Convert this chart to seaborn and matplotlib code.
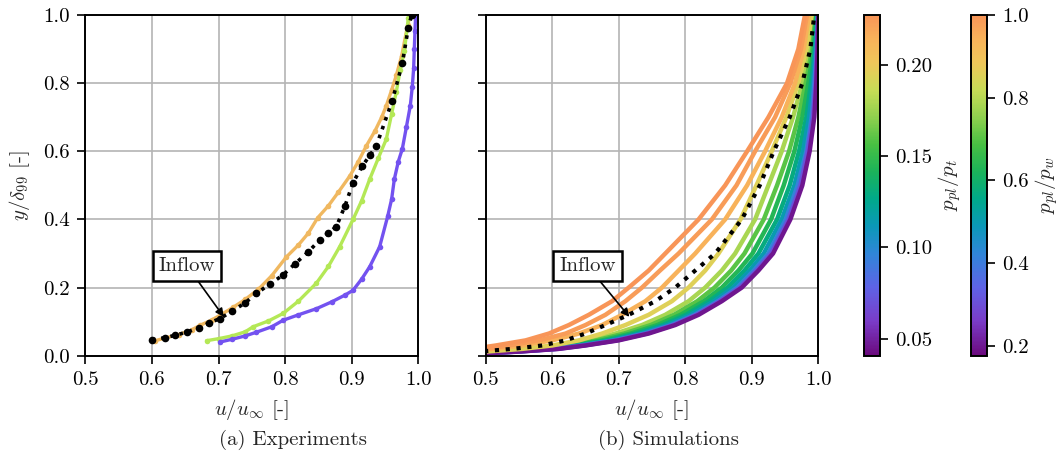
import numpy as np
import pandas as pd
import matplotlib
matplotlib.use("Agg")
import matplotlib.pyplot as plt
import seaborn as sns
from matplotlib.colors import LinearSegmentedColormap, Normalize
from matplotlib.cm import ScalarMappable

# ---------------- data ----------------
# (a) experiments
exp_orange_u = [0.605, 0.62, 0.64, 0.66, 0.672, 0.69, 0.705, 0.722, 0.74, 0.76, 0.78, 0.802, 0.82, 0.835,
                0.849, 0.865, 0.88, 0.897, 0.91, 0.922, 0.935, 0.945, 0.952, 0.96, 0.967, 0.975, 0.984, 0.988]
exp_orange_y = [0.044, 0.052, 0.062, 0.076, 0.089, 0.105, 0.122, 0.142, 0.165, 0.195, 0.235, 0.29, 0.325, 0.36,
                0.405, 0.44, 0.48, 0.527, 0.57, 0.616, 0.66, 0.7, 0.734, 0.78, 0.823, 0.88, 0.97, 1.0]

inflow_u = [0.6, 0.62, 0.635, 0.652, 0.67, 0.685, 0.702, 0.72, 0.74, 0.757, 0.777, 0.797, 0.815, 0.835,
            0.852, 0.865, 0.877, 0.89, 0.902, 0.916, 0.928, 0.937, 0.961, 0.976, 0.985, 0.99]
inflow_y = [0.047, 0.053, 0.06, 0.069, 0.082, 0.095, 0.109, 0.13, 0.155, 0.183, 0.21, 0.237, 0.27, 0.305,
            0.34, 0.36, 0.379, 0.44, 0.508, 0.557, 0.59, 0.616, 0.749, 0.858, 0.963, 1.0]

exp_green_u = [0.682, 0.70, 0.72, 0.74, 0.752, 0.775, 0.797, 0.82, 0.847, 0.865, 0.882, 0.902, 0.915, 0.927,
               0.94, 0.952, 0.96, 0.967, 0.973, 0.979, 0.985]
exp_green_y = [0.044, 0.05, 0.058, 0.07, 0.085, 0.102, 0.124, 0.16, 0.213, 0.262, 0.32, 0.4, 0.455, 0.518,
               0.58, 0.636, 0.71, 0.775, 0.84, 0.893, 0.99]

exp_purple_u = [0.702, 0.72, 0.74, 0.757, 0.78, 0.797, 0.82, 0.847, 0.87, 0.89, 0.902, 0.915, 0.927, 0.942,
                0.954, 0.96, 0.964, 0.97, 0.976, 0.982, 0.988, 0.991, 0.993, 0.994, 0.995, 0.996]
exp_purple_y = [0.04, 0.048, 0.058, 0.069, 0.085, 0.104, 0.12, 0.138, 0.158, 0.178, 0.192, 0.225, 0.261, 0.32,
                0.409, 0.46, 0.518, 0.57, 0.607, 0.67, 0.734, 0.79, 0.843, 0.9, 0.953, 1.0]

# (b) simulations: u at common wall distances
sim_y = [0.004, 0.008, 0.012, 0.02, 0.03, 0.045, 0.065, 0.09, 0.12, 0.16,
         0.2, 0.25, 0.3, 0.4, 0.5, 0.6, 0.7, 0.8, 0.9, 1.0]
sim_ratio = [0.045, 0.07, 0.095, 0.115, 0.13, 0.145, 0.16, 0.178, 0.195, 0.215, 0.224, 0.2275]
sim_u = [
    [0.46, 0.51, 0.55, 0.61, 0.65, 0.70, 0.745, 0.785, 0.82, 0.855, 0.885, 0.91, 0.932, 0.958, 0.976, 0.987, 0.994, 0.997, 0.999, 1.0],
    [0.458, 0.508, 0.548, 0.608, 0.648, 0.697, 0.742, 0.782, 0.817, 0.852, 0.882, 0.907, 0.929, 0.955, 0.973, 0.984, 0.992, 0.996, 0.998, 1.0],
    [0.456, 0.506, 0.546, 0.605, 0.645, 0.694, 0.739, 0.779, 0.814, 0.849, 0.878, 0.903, 0.925, 0.951, 0.969, 0.982, 0.990, 0.994, 0.998, 0.999],
    [0.453, 0.503, 0.543, 0.602, 0.642, 0.689, 0.733, 0.773, 0.808, 0.843, 0.872, 0.897, 0.918, 0.945, 0.964, 0.977, 0.986, 0.992, 0.996, 0.999],
    [0.449, 0.499, 0.539, 0.597, 0.637, 0.683, 0.726, 0.766, 0.801, 0.836, 0.864, 0.889, 0.910, 0.938, 0.957, 0.971, 0.982, 0.989, 0.995, 0.998],
    [0.444, 0.494, 0.534, 0.591, 0.631, 0.675, 0.718, 0.758, 0.793, 0.828, 0.855, 0.880, 0.901, 0.929, 0.948, 0.964, 0.976, 0.985, 0.993, 0.997],
    [0.438, 0.488, 0.528, 0.584, 0.624, 0.666, 0.708, 0.748, 0.783, 0.818, 0.844, 0.869, 0.889, 0.918, 0.938, 0.956, 0.970, 0.981, 0.991, 0.996],
    [0.43, 0.48, 0.52, 0.575, 0.615, 0.655, 0.695, 0.735, 0.77, 0.805, 0.83, 0.855, 0.875, 0.905, 0.925, 0.945, 0.962, 0.976, 0.988, 0.995],
    [0.41, 0.46, 0.50, 0.555, 0.60, 0.64, 0.675, 0.71, 0.745, 0.78, 0.805, 0.83, 0.85, 0.883, 0.907, 0.93, 0.952, 0.97, 0.982, 0.99],
    [0.37, 0.42, 0.46, 0.515, 0.555, 0.60, 0.64, 0.675, 0.705, 0.74, 0.765, 0.79, 0.815, 0.86, 0.893, 0.92, 0.945, 0.965, 0.978, 0.986],
    [0.35, 0.40, 0.44, 0.50, 0.535, 0.58, 0.62, 0.65, 0.68, 0.71, 0.735, 0.762, 0.79, 0.84, 0.877, 0.905, 0.935, 0.958, 0.974, 0.983],
    [0.33, 0.38, 0.42, 0.48, 0.515, 0.56, 0.595, 0.625, 0.655, 0.69, 0.715, 0.745, 0.77, 0.82, 0.86, 0.893, 0.925, 0.953, 0.97, 0.98],
]
sim_inflow_u = [0.40, 0.45, 0.49, 0.54, 0.585, 0.62, 0.65, 0.68, 0.715, 0.755,
                0.785, 0.815, 0.845, 0.885, 0.912, 0.933, 0.957, 0.976, 0.988, 0.994]

cbar1_ticks = [0.05, 0.10, 0.15, 0.20]
cbar2_ticks = [0.2, 0.4, 0.6, 0.8, 1.0]
ratio_t_range = (0.0406, 0.2275)
ratio_w_range = (0.176, 1.0)

# ---------------- style ----------------
FS = 15
sns.set_theme(style="whitegrid")
plt.rcParams.update({
    "font.family": ["cmr10", "DejaVu Serif"],
    "mathtext.fontset": "cm",
    "axes.formatter.use_mathtext": True,
    "font.size": FS,
    "axes.edgecolor": "black",
    "axes.linewidth": 1.4,
    "grid.color": "#b4b4b4",
    "grid.linewidth": 1.2,
    "xtick.color": "black",
    "ytick.color": "black",
    "xtick.bottom": True,
    "ytick.left": True,
})

cmap = LinearSegmentedColormap.from_list("profile", [
    (0.00, "#6b0a7d"), (0.10, "#7a3cc8"), (0.20, "#5e63e6"), (0.30, "#2f86d8"),
    (0.38, "#0b98b8"), (0.46, "#00a98a"), (0.54, "#1bb35a"), (0.62, "#48c043"),
    (0.70, "#8fd04e"), (0.78, "#c7dc56"), (0.86, "#efc75a"), (0.93, "#f8b35a"),
    (1.00, "#f89558")])

fig = plt.figure(figsize=(10.61, 4.54), dpi=100)
axL = fig.add_axes([85.3 / 1061, 98.3 / 454, 333 / 1061, 340.7 / 454])
axR = fig.add_axes([485.7 / 1061, 98.3 / 454, 332.6 / 1061, 340.7 / 454])
cax1 = fig.add_axes([864 / 1061, 98.3 / 454, 16 / 1061, 340.7 / 454])
cax2 = fig.add_axes([971 / 1061, 98.3 / 454, 16 / 1061, 340.7 / 454])

# ---- left panel ----
def exp_line(ax, u, y, color, **kw):
    df = pd.DataFrame({"u": u, "y": y})
    sns.lineplot(data=df, x="u", y="y", sort=False, estimator=None, ax=ax, color=color,
                 lw=2.4, marker="o", markersize=4, markeredgewidth=0, **kw)

exp_line(axL, exp_orange_u, exp_orange_y, "#f0b860")
exp_line(axL, exp_green_u, exp_green_y, "#b4e856")
exp_line(axL, exp_purple_u, exp_purple_y, "#7352f0")
df_in = pd.DataFrame({"u": inflow_u, "y": inflow_y})
sns.lineplot(data=df_in, x="u", y="y", sort=False, estimator=None, ax=axL, color="black",
             lw=2.6, linestyle=(0, (1, 1.6)), marker="o", markersize=5.5, markeredgewidth=0, zorder=5)

# ---- right panel ----
rows = []
for i, (r, us) in enumerate(zip(sim_ratio, sim_u)):
    for u, y in zip(us, sim_y):
        rows.append({"curve": i, "ratio": r, "u": u, "y": y})
df_sim = pd.DataFrame(rows)
norm_t = Normalize(*ratio_t_range)
for i in range(len(sim_ratio)):
    sub = df_sim[df_sim.curve == i]
    sns.lineplot(data=sub, x="u", y="y", sort=False, estimator=None, ax=axR,
                 color=cmap(norm_t(sim_ratio[i])), lw=3.2,
                 zorder=2 + (i if i >= 8 else 8 - i) * 0.01)
df_sin = pd.DataFrame({"u": sim_inflow_u, "y": sim_y})
sns.lineplot(data=df_sin, x="u", y="y", sort=False, estimator=None, ax=axR, color="black",
             lw=3.0, linestyle=(0, (1, 1.6)), zorder=5)

for ax in (axL, axR):
    ax.set_xlim(0.5, 1.0)
    ax.set_ylim(0.0, 1.0)
    ax.set_xticks([0.5, 0.6, 0.7, 0.8, 0.9, 1.0])
    ax.set_yticks([0.0, 0.2, 0.4, 0.6, 0.8, 1.0])
    ax.xaxis.set_major_formatter(matplotlib.ticker.FormatStrFormatter("%.1f"))
    ax.yaxis.set_major_formatter(matplotlib.ticker.FormatStrFormatter("%.1f"))
    ax.set_xlabel(r"$u/u_\infty$ [-]", fontsize=FS, labelpad=6)
    ax.grid(True)
    ax.set_axisbelow(True)
    for s in ax.spines.values():
        s.set_color("black")
        s.set_linewidth(1.4)
    ax.tick_params(direction="out", length=6, width=1.2, labelsize=FS, pad=5)
    ax.annotate("Inflow", xy=(0.708 if ax is axL else 0.716, 0.114), xytext=(0.653, 0.263),
                ha="center", va="center", fontsize=FS,
                bbox=dict(boxstyle="square,pad=0.28", fc="white", ec="black", lw=1.8),
                arrowprops=dict(arrowstyle="-|>", color="black", lw=1.2, mutation_scale=12,
                                shrinkA=0, shrinkB=0), zorder=10)

axL.set_ylabel(r"$y/\delta_{99}$ [-]", fontsize=FS, labelpad=8)
axR.set_ylabel("")
axR.tick_params(labelleft=False)

fig.text(293 / 1061, 14 / 454, "(a) Experiments", ha="center", va="center", fontsize=FS)
fig.text(668 / 1061, 14 / 454, "(b) Simulations", ha="center", va="center", fontsize=FS)

# ---- colorbars ----
for cax, rng, ticks, fmt, label in ((cax1, ratio_t_range, cbar1_ticks, "%.2f", r"$p_{pl}/p_t$"),
                                     (cax2, ratio_w_range, cbar2_ticks, "%.1f", r"$p_{pl}/p_w$")):
    sm = ScalarMappable(norm=Normalize(*rng), cmap=cmap)
    cb = fig.colorbar(sm, cax=cax, ticks=ticks, format=fmt)
    cb.outline.set_linewidth(1.4)
    cb.outline.set_edgecolor("black")
    cax.tick_params(length=6, width=1.2, labelsize=FS, pad=5)
    cb.set_label(label, fontsize=FS, labelpad=3)

fig.savefig("out.png", dpi=100)
